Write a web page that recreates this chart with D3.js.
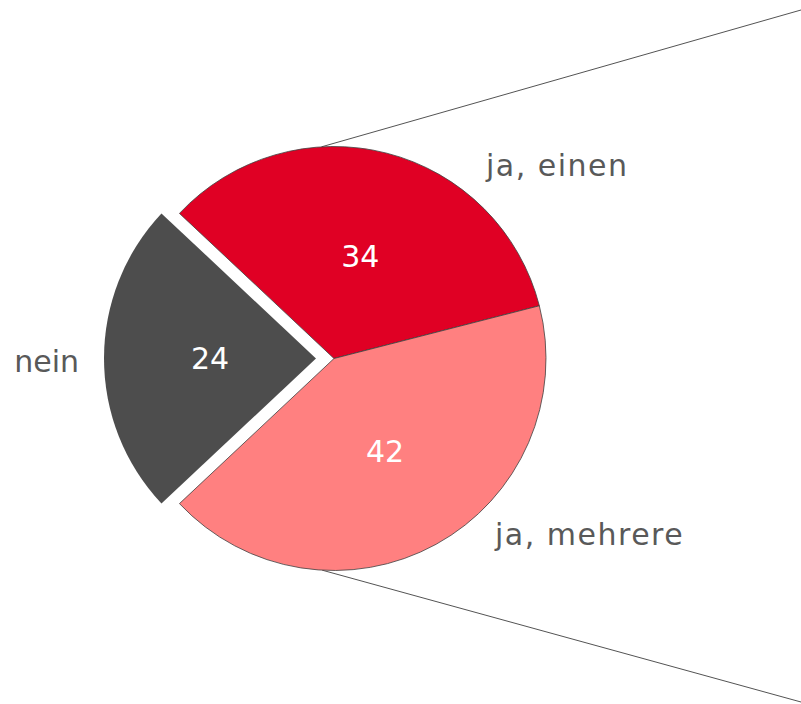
<!DOCTYPE html>
<html>
<head>
<meta charset="utf-8">
<script src="https://cdn.jsdelivr.net/npm/d3@7"></script>
<style>
    body { margin: 0; background: #fff; }
    svg { display: block; }
</style>
</head>
<body>
<svg id="chart"></svg>
<script>
// data
var categories = ["ja, einen", "ja, mehrere", "nein"];
var values = [34, 42, 24];
var colors = ["#E00024", "#FF8080", "#4D4D4D"];
var explodedSlice = 2; // "nein" is pulled out of the pie

var width = 801,
    height = 704,
    cx = 334,
    cy = 358.5,
    radius = 212,
    explode = 18,
    fontFamily = "'DejaVu Sans', Verdana, sans-serif";

// where the outside labels sit (layout only)
var labelPos = [
    { x: 486, y: 176, anchor: "start", spacing: 1.5 },
    { x: 495, y: 545, anchor: "start", spacing: 1.5 },
    { x: 79, y: 372, anchor: "end", spacing: 0 }
];

var svg = d3.select("#chart")
    .attr("width", width)
    .attr("height", height);

var total = d3.sum(values);
// exploded slice centred on 9 o'clock
var startAngle = -Math.PI / 2 + (values[explodedSlice] / total) * Math.PI;

var pie = d3.pie()
    .sort(null)
    .startAngle(startAngle)
    .endAngle(startAngle + 2 * Math.PI);

var arcs = pie(values);

var arc = d3.arc()
    .innerRadius(0)
    .outerRadius(radius);

// connector lines towards the (off-page) second pie
var connAngles = [-3.4, 183.2].map(function (a) { return a * Math.PI / 180; });
var connEnds = [10, 702];
var lines = svg.append("g").attr("class", "connectors");
connAngles.forEach(function (a, i) {
    lines.append("line")
        .attr("x1", cx + radius * Math.sin(a))
        .attr("y1", cy - radius * Math.cos(a))
        .attr("x2", width)
        .attr("y2", connEnds[i])
        .attr("stroke", "#404040")
        .attr("stroke-width", 0.9);
});

var slices = svg.selectAll("g.slice")
    .data(arcs)
    .enter()
    .append("g")
    .attr("class", "slice")
    .attr("transform", function (d, i) {
        if (i == explodedSlice) {
            var mid = (d.startAngle + d.endAngle) / 2;
            return "translate(" + (cx + explode * Math.sin(mid)) + "," + (cy - explode * Math.cos(mid)) + ")";
        }
        return "translate(" + cx + "," + cy + ")";
    });

slices.append("path")
    .attr("d", arc)
    .style("fill", function (d, i) { return colors[i]; })
    .style("stroke", function (d, i) { return i == explodedSlice ? "none" : "#404040"; })
    .style("stroke-width", 0.8);

// value labels
slices.append("text")
    .attr("transform", function (d) { return "translate(" + arc.centroid(d) + ")"; })
    .attr("text-anchor", "middle")
    .attr("dy", "0.36em")
    .attr("font-family", fontFamily)
    .attr("font-size", "30px")
    .attr("fill", "#fff")
    .text(function (d) { return d.data; });

// category labels
svg.selectAll("text.cat")
    .data(categories)
    .enter()
    .append("text")
    .attr("class", "cat")
    .attr("x", function (d, i) { return labelPos[i].x; })
    .attr("y", function (d, i) { return labelPos[i].y; })
    .attr("text-anchor", function (d, i) { return labelPos[i].anchor; })
    .attr("letter-spacing", function (d, i) { return labelPos[i].spacing; })
    .attr("font-family", fontFamily)
    .attr("font-size", "30px")
    .attr("fill", "#595959")
    .text(function (d) { return d; });
</script>
</body>
</html>
